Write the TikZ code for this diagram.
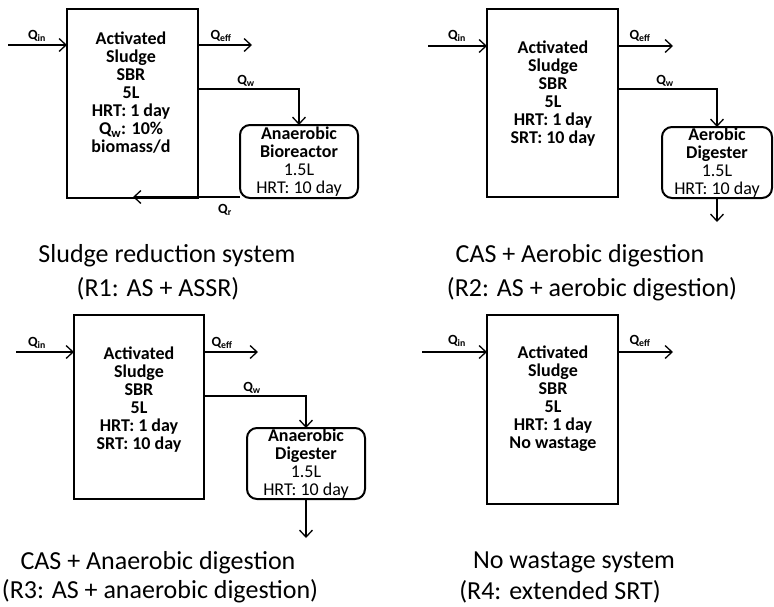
\documentclass[tikz,border=0pt]{standalone}
\usepackage{fontspec}
\setmainfont{Carlito}
\usetikzlibrary{arrows.meta}
\newcommand{\Qlab}[1]{Q\textsubscript{#1}}
\begin{document}
\begin{tikzpicture}[x=1pt,y=-1pt,
  reactor/.style={draw, line width=2pt, inner sep=0pt, outer sep=0pt},
  digbox/.style={draw, line width=2pt, rounded corners=10pt, inner sep=0pt, outer sep=0pt,
    align=center, font=\fontsize{18}{18}\selectfont},
  boxtext/.style={align=center, inner sep=0pt, font=\fontsize{18}{18}\selectfont\bfseries},
  qlab/.style={inner sep=0pt, font=\fontsize{14}{14}\selectfont\bfseries},
  caption/.style={inner sep=0pt, font=\fontsize{26}{26}\selectfont},
  flow/.style={line width=1.3pt, -{Straight Barb[length=7pt,width=13pt]}}
]
\useasboundingbox (0,0) rectangle (774,606);

% ---------- Panel 1 ----------
\node[reactor, minimum width=131pt, minimum height=189pt] (box1) at (132.5,103.5) {};
\node[boxtext] (t1) at (131,92.5) {Activated\\Sludge\\SBR\\5L\\HRT: 1 day\\Q\textsubscript{w}: 10\%\\biomass/d};
\node[digbox, minimum width=118pt, minimum height=73pt] (dig1) at (299,161.5)
  {\textbf{Anaerobic}\\\textbf{Bioreactor}\\1.5L\\HRT: 10 day};
\coordinate (in1) at (8,45);
\coordinate (eff1) at (252,45);
\coordinate (w1) at (299,89);
\coordinate (r1) at (133,197);
\draw[flow] (in1) -- (box1.west |- in1);
\draw[flow] (box1.east |- eff1) -- (eff1);
\draw[flow] (box1.east |- w1) -- (w1) -- (dig1.north);
\draw[flow] (dig1.west |- r1) -- (r1);
\node[qlab] (q1in) at (37,36) {\Qlab{in}};
\node[qlab] (q1eff) at (221,36) {\Qlab{eff}};
\node[qlab] (q1w) at (246,81) {\Qlab{w}};
\node[qlab] (q1r) at (225,210) {\Qlab{r}};
\node[caption] (c1a) at (167,256) {Sludge reduction system};
\node[caption] (c1b) at (158,289) {(R1: AS + ASSR)};

% ---------- Panel 2 ----------
\node[reactor, minimum width=131pt, minimum height=188pt] (box2) at (552.5,103) {};
\node[boxtext] (t2) at (553,93.5) {Activated\\Sludge\\SBR\\5L\\HRT: 1 day\\SRT: 10 day};
\node[digbox, minimum width=110pt, minimum height=71pt] (dig2) at (717,162.5)
  {\textbf{Aerobic}\\\textbf{Digester}\\1.5L\\HRT: 10 day};
\coordinate (in2) at (428,46);
\coordinate (eff2) at (673,46);
\coordinate (w2) at (717,89);
\coordinate (o2) at (717,222);
\draw[flow] (in2) -- (box2.west |- in2);
\draw[flow] (box2.east |- eff2) -- (eff2);
\draw[flow] (box2.east |- w2) -- (w2) -- (dig2.north);
\draw[flow] (dig2.south) -- (o2);
\node[qlab] (q2in) at (457,36) {\Qlab{in}};
\node[qlab] (q2eff) at (640,36) {\Qlab{eff}};
\node[qlab] (q2w) at (665,81) {\Qlab{w}};
\node[caption] (c2a) at (580,256) {CAS + Aerobic digestion};
\node[caption] (c2b) at (592,289) {(R2: AS + aerobic digestion)};

% ---------- Panel 3 ----------
\node[reactor, minimum width=130pt, minimum height=184pt] (box3) at (139,407) {};
\node[boxtext] (t3) at (139,400) {Activated\\Sludge\\SBR\\5L\\HRT: 1 day\\SRT: 10 day};
\node[digbox, minimum width=118pt, minimum height=71pt] (dig3) at (306,463.5)
  {\textbf{Anaerobic}\\\textbf{Digester}\\1.5L\\HRT: 10 day};
\coordinate (in3) at (16,352);
\coordinate (eff3) at (258,352);
\coordinate (w3) at (306,396);
\coordinate (o3) at (306,538);
\draw[flow] (in3) -- (box3.west |- in3);
\draw[flow] (box3.east |- eff3) -- (eff3);
\draw[flow] (box3.east |- w3) -- (w3) -- (dig3.north);
\draw[flow] (dig3.south) -- (o3);
\node[qlab] (q3in) at (37,343) {\Qlab{in}};
\node[qlab] (q3eff) at (222,343) {\Qlab{eff}};
\node[qlab] (q3w) at (252,388) {\Qlab{w}};
\node[caption] (c3a) at (158,563) {CAS + Anaerobic digestion};
\node[caption] (c3b) at (160,591) {(R3: AS + anaerobic digestion)};

% ---------- Panel 4 ----------
\node[reactor, minimum width=131pt, minimum height=189pt] (box4) at (552.5,409.5) {};
\node[boxtext] (t4) at (553,398.5) {Activated\\Sludge\\SBR\\5L\\HRT: 1 day\\No wastage};
\coordinate (in4) at (422,352);
\coordinate (eff4) at (673,352);
\draw[flow] (in4) -- (box4.west |- in4);
\draw[flow] (box4.east |- eff4) -- (eff4);
\node[qlab] (q4in) at (457,341) {\Qlab{in}};
\node[qlab] (q4eff) at (640,341) {\Qlab{eff}};
\node[caption] (c4a) at (574,562) {No wastage system};
\node[caption] (c4b) at (560,592) {(R4: extended SRT)};
\end{tikzpicture}
\end{document}
